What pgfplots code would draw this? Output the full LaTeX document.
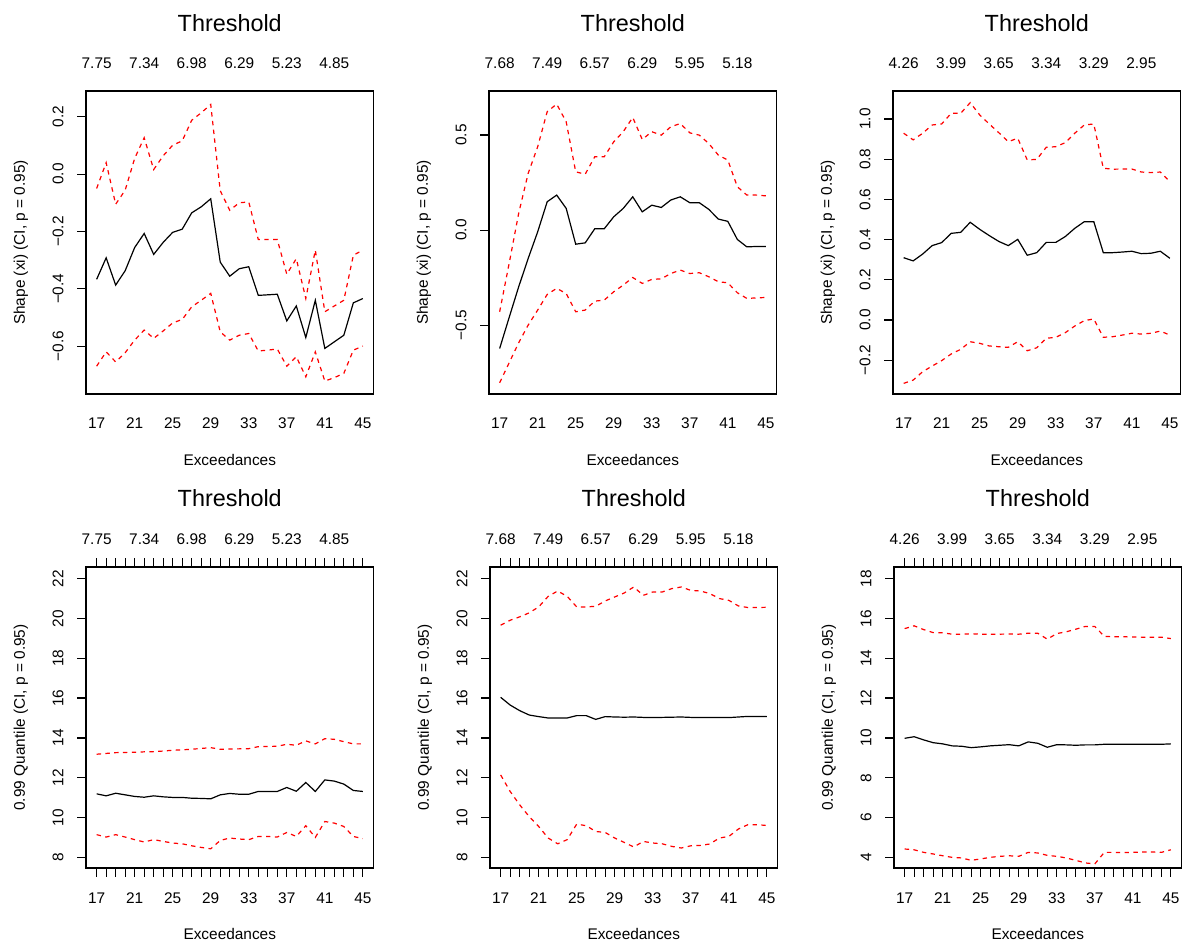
\documentclass[border=0pt]{standalone}
\usepackage{pgfplots}
\pgfplotsset{compat=1.18}
\usepackage{pgfplotstable}
\usepackage{fontspec}
\setmainfont{Liberation Sans}

\pgfplotstableread{
n est lo hi
17 -0.367 -0.670 -0.050
18 -0.292 -0.620 0.040
19 -0.387 -0.655 -0.105
20 -0.337 -0.623 -0.056
21 -0.256 -0.579 0.055
22 -0.207 -0.544 0.127
23 -0.280 -0.573 0.016
24 -0.238 -0.547 0.064
25 -0.203 -0.519 0.101
26 -0.192 -0.507 0.116
27 -0.135 -0.463 0.188
28 -0.114 -0.440 0.214
29 -0.086 -0.416 0.243
30 -0.307 -0.550 -0.058
31 -0.356 -0.579 -0.126
32 -0.330 -0.562 -0.100
33 -0.323 -0.556 -0.097
34 -0.423 -0.617 -0.228
35 -0.421 -0.614 -0.228
36 -0.419 -0.610 -0.228
37 -0.512 -0.670 -0.349
38 -0.460 -0.637 -0.295
39 -0.570 -0.707 -0.434
40 -0.440 -0.620 -0.265
41 -0.608 -0.722 -0.480
42 -0.585 -0.710 -0.460
43 -0.562 -0.695 -0.440
44 -0.449 -0.614 -0.283
45 -0.434 -0.600 -0.265
}\tA

\pgfplotstableread{
n est lo hi
17 -0.622 -0.802 -0.429
18 -0.459 -0.697 -0.175
19 -0.298 -0.592 0.088
20 -0.149 -0.499 0.298
21 -0.009 -0.420 0.438
22 0.149 -0.338 0.622
23 0.184 -0.306 0.662
24 0.114 -0.333 0.569
25 -0.074 -0.429 0.306
26 -0.067 -0.420 0.294
27 0.007 -0.373 0.385
28 0.007 -0.368 0.385
29 0.070 -0.324 0.464
30 0.114 -0.289 0.517
31 0.175 -0.249 0.592
32 0.096 -0.280 0.476
33 0.131 -0.259 0.517
34 0.119 -0.256 0.499
35 0.158 -0.228 0.543
36 0.175 -0.210 0.560
37 0.144 -0.228 0.511
38 0.144 -0.224 0.499
39 0.109 -0.245 0.455
40 0.058 -0.271 0.394
41 0.046 -0.277 0.368
42 -0.049 -0.329 0.228
43 -0.088 -0.359 0.184
44 -0.086 -0.356 0.184
45 -0.086 -0.354 0.180
}\tB

\pgfplotstableread{
n est lo hi
17 0.310 -0.315 0.929
18 0.294 -0.299 0.896
19 0.328 -0.257 0.929
20 0.370 -0.229 0.970
21 0.385 -0.202 0.975
22 0.431 -0.169 1.028
23 0.436 -0.146 1.028
24 0.486 -0.108 1.081
25 0.451 -0.116 1.020
26 0.420 -0.129 0.975
27 0.391 -0.133 0.932
28 0.370 -0.136 0.887
29 0.401 -0.108 0.904
30 0.322 -0.153 0.796
31 0.335 -0.138 0.799
32 0.386 -0.091 0.859
33 0.386 -0.086 0.862
34 0.415 -0.063 0.882
35 0.456 -0.030 0.929
36 0.489 -0.003 0.970
37 0.489 0.005 0.975
38 0.335 -0.086 0.755
39 0.335 -0.083 0.750
40 0.338 -0.075 0.751
41 0.342 -0.066 0.751
42 0.330 -0.070 0.736
43 0.332 -0.066 0.733
44 0.342 -0.055 0.736
45 0.307 -0.075 0.688
}\tC

\pgfplotstableread{
n est lo hi
17 11.19 9.14 13.18
18 11.09 9.02 13.22
19 11.22 9.14 13.26
20 11.14 9.02 13.27
21 11.06 8.89 13.28
22 11.02 8.77 13.30
23 11.09 8.89 13.31
24 11.04 8.80 13.34
25 11.01 8.72 13.38
26 11.01 8.68 13.40
27 10.97 8.58 13.43
28 10.96 8.50 13.47
29 10.94 8.43 13.51
30 11.14 8.85 13.43
31 11.21 8.97 13.44
32 11.17 8.92 13.45
33 11.17 8.89 13.46
34 11.31 9.05 13.56
35 11.31 9.05 13.57
36 11.31 9.02 13.58
37 11.51 9.25 13.68
38 11.32 9.05 13.63
39 11.76 9.59 13.85
40 11.31 9.00 13.70
41 11.89 9.80 13.96
42 11.83 9.72 13.93
43 11.68 9.55 13.81
44 11.36 9.05 13.70
45 11.31 8.94 13.70
}\tD

\pgfplotstableread{
n est lo hi
17 16.04 12.14 19.66
18 15.65 11.31 19.91
19 15.37 10.64 20.08
20 15.15 10.05 20.28
21 15.07 9.55 20.58
22 15.00 8.97 21.11
23 15.00 8.68 21.38
24 15.00 8.89 21.11
25 15.12 9.67 20.58
26 15.12 9.59 20.58
27 14.93 9.30 20.61
28 15.07 9.25 20.88
29 15.05 8.97 21.08
30 15.04 8.75 21.28
31 15.05 8.52 21.58
32 15.03 8.80 21.16
33 15.03 8.72 21.33
34 15.03 8.68 21.33
35 15.04 8.55 21.50
36 15.05 8.47 21.58
37 15.03 8.58 21.41
38 15.03 8.60 21.38
39 15.02 8.67 21.25
40 15.02 8.97 21.00
41 15.02 9.05 20.91
42 15.05 9.42 20.63
43 15.08 9.64 20.55
44 15.08 9.64 20.55
45 15.07 9.60 20.56
}\tE

\pgfplotstableread{
n est lo hi
17 9.98 4.42 15.49
18 10.06 4.38 15.63
19 9.90 4.25 15.44
20 9.76 4.17 15.29
21 9.70 4.08 15.28
22 9.60 4.00 15.21
23 9.58 3.97 15.21
24 9.51 3.85 15.23
25 9.55 3.92 15.21
26 9.60 4.00 15.21
27 9.63 4.05 15.21
28 9.66 4.08 15.22
29 9.60 4.05 15.21
30 9.80 4.25 15.26
31 9.73 4.22 15.26
32 9.53 4.10 14.96
33 9.66 4.05 15.24
34 9.65 3.97 15.33
35 9.63 3.85 15.46
36 9.65 3.72 15.60
37 9.65 3.67 15.60
38 9.68 4.25 15.10
39 9.68 4.25 15.08
40 9.68 4.24 15.08
41 9.68 4.25 15.07
42 9.68 4.27 15.06
43 9.68 4.27 15.06
44 9.68 4.25 15.06
45 9.70 4.38 14.99
}\tF

\newcommand{\sm}{\fontsize{7.7}{9}\selectfont}
\newcommand{\bg}{\fontsize{11.7}{14}\selectfont}

\pgfplotsset{
  common/.style={
    scale only axis, width=143.75pt,
    xmin=15.88, xmax=46.12,
    axis line style={line width=0.75pt},
    tick align=inside, major tick length=-4.5pt, minor tick length=-4.5pt,
    tick style={black, line width=0.6pt},
  },
  mainax/.style={
    common,
    xtick={17,21,...,45}, xticklabels={17,21,25,29,33,37,41,45},
    xtick pos=left, ytick pos=left,
    xticklabel style={font=\sm, anchor=center, inner sep=0pt, yshift=-14.5pt},
    yticklabel style={font=\sm, xshift=-14pt, rotate=90, anchor=center, inner sep=0pt},
    xlabel={Exceedances},
    xlabel style={font=\sm, at={(axis description cs:0.5,-0.218)}, anchor=center, inner sep=0pt},
    ylabel style={font=\sm, at={(axis description cs:-0.2261,0.5)}, anchor=center, inner sep=0pt},
    title={Threshold},
    title style={font=\bg, at={(axis description cs:0.5,1.2244)}, anchor=center, inner sep=0pt, yshift=-6pt},
  },
  topax/.style={
    common, ymin=0, ymax=1,
    axis x line*=top, axis y line=none,
    tick align=inside, major tick length=-4.5pt, minor tick length=-4.5pt,
    xtick={17,22,27,32,37,42},
    xticklabel style={font=\sm, anchor=center, inner sep=0pt, yshift=13.9pt},
  },
  est/.style={black, line width=0.6pt},
  ci/.style={red, line width=0.6pt, dash pattern=on 2.2pt off 2.2pt},
}

\begin{document}
\begin{tikzpicture}
\useasboundingbox (0,0) rectangle (592pt,471.5pt);

% ---------- Row 1 ----------
\begin{axis}[mainax, at={(43pt,274.5pt)}, anchor=south west, height=151.5pt,
  ymin=-0.767, ymax=0.29, xtick style={draw=none},
  ytick={-0.6,-0.4,-0.2,0,0.2}, yticklabels={−0.6,−0.4,−0.2,0.0,0.2},
  ylabel={Shape (xi) (CI, p = 0.95)}]
\addplot[est] table[x=n,y=est]{\tA};
\addplot[ci] table[x=n,y=hi]{\tA};
\addplot[ci] table[x=n,y=lo]{\tA};
\end{axis}
\begin{axis}[topax, at={(43pt,274.5pt)}, anchor=south west, height=151.5pt,
  xtick style={draw=none}, xticklabels={7.75,7.34,6.98,6.29,5.23,4.85}]
\end{axis}

\begin{axis}[mainax, at={(244.5pt,274.5pt)}, anchor=south west, height=151.5pt,
  ymin=-0.861, ymax=0.731, xtick style={draw=none},
  ytick={-0.5,0,0.5}, yticklabels={−0.5,0.0,0.5},
  ylabel={Shape (xi) (CI, p = 0.95)}]
\addplot[est] table[x=n,y=est]{\tB};
\addplot[ci] table[x=n,y=hi]{\tB};
\addplot[ci] table[x=n,y=lo]{\tB};
\end{axis}
\begin{axis}[topax, at={(244.5pt,274.5pt)}, anchor=south west, height=151.5pt,
  xtick style={draw=none}, xticklabels={7.68,7.49,6.57,6.29,5.95,5.18}]
\end{axis}

\begin{axis}[mainax, at={(446.5pt,274.5pt)}, anchor=south west, height=151.5pt,
  ymin=-0.368, ymax=1.139, xtick style={draw=none},
  ytick={-0.2,0,0.2,0.4,0.6,0.8,1.0}, yticklabels={−0.2,0.0,0.2,0.4,0.6,0.8,1.0},
  ylabel={Shape (xi) (CI, p = 0.95)}]
\addplot[est] table[x=n,y=est]{\tC};
\addplot[ci] table[x=n,y=hi]{\tC};
\addplot[ci] table[x=n,y=lo]{\tC};
\end{axis}
\begin{axis}[topax, at={(446.5pt,274.5pt)}, anchor=south west, height=151.5pt,
  xtick style={draw=none}, xticklabels={4.26,3.99,3.65,3.34,3.29,2.95}]
\end{axis}

% ---------- Row 2 ----------
\begin{axis}[mainax, at={(43pt,37.5pt)}, anchor=south west, height=150.5pt,
  ymin=7.465, ymax=22.585, minor xtick={17,...,45},
  ytick={8,10,...,22}, yticklabels={8,10,12,14,16,18,20,22},
  ylabel={0.99 Quantile (CI, p = 0.95)},
  xticklabel style={yshift=-0.5pt},
  title style={at={(axis description cs:0.5,1.229)}}]
\addplot[est] table[x=n,y=est]{\tD};
\addplot[ci] table[x=n,y=hi]{\tD};
\addplot[ci] table[x=n,y=lo]{\tD};
\end{axis}
\begin{axis}[topax, at={(43pt,37.5pt)}, anchor=south west, height=150.5pt,
  minor xtick={17,...,45}, xticklabels={7.75,7.34,6.98,6.29,5.23,4.85}]
\end{axis}

\begin{axis}[mainax, at={(245pt,37.5pt)}, anchor=south west, height=150.5pt,
  ymin=7.465, ymax=22.585, minor xtick={17,...,45},
  ytick={8,10,...,22}, yticklabels={8,10,12,14,16,18,20,22},
  ylabel={0.99 Quantile (CI, p = 0.95)},
  xticklabel style={yshift=-0.5pt},
  title style={at={(axis description cs:0.5,1.229)}}]
\addplot[est] table[x=n,y=est]{\tE};
\addplot[ci] table[x=n,y=hi]{\tE};
\addplot[ci] table[x=n,y=lo]{\tE};
\end{axis}
\begin{axis}[topax, at={(245pt,37.5pt)}, anchor=south west, height=150.5pt,
  minor xtick={17,...,45}, xticklabels={7.68,7.49,6.57,6.29,5.95,5.18}]
\end{axis}

\begin{axis}[mainax, at={(447pt,37.5pt)}, anchor=south west, height=150.5pt,
  ymin=3.465, ymax=18.585, minor xtick={17,...,45},
  ytick={4,6,...,18}, yticklabels={4,6,8,10,12,14,16,18},
  ylabel={0.99 Quantile (CI, p = 0.95)},
  xticklabel style={yshift=-0.5pt},
  title style={at={(axis description cs:0.5,1.229)}}]
\addplot[est] table[x=n,y=est]{\tF};
\addplot[ci] table[x=n,y=hi]{\tF};
\addplot[ci] table[x=n,y=lo]{\tF};
\end{axis}
\begin{axis}[topax, at={(447pt,37.5pt)}, anchor=south west, height=150.5pt,
  minor xtick={17,...,45}, xticklabels={4.26,3.99,3.65,3.34,3.29,2.95}]
\end{axis}
\end{tikzpicture}
\end{document}
